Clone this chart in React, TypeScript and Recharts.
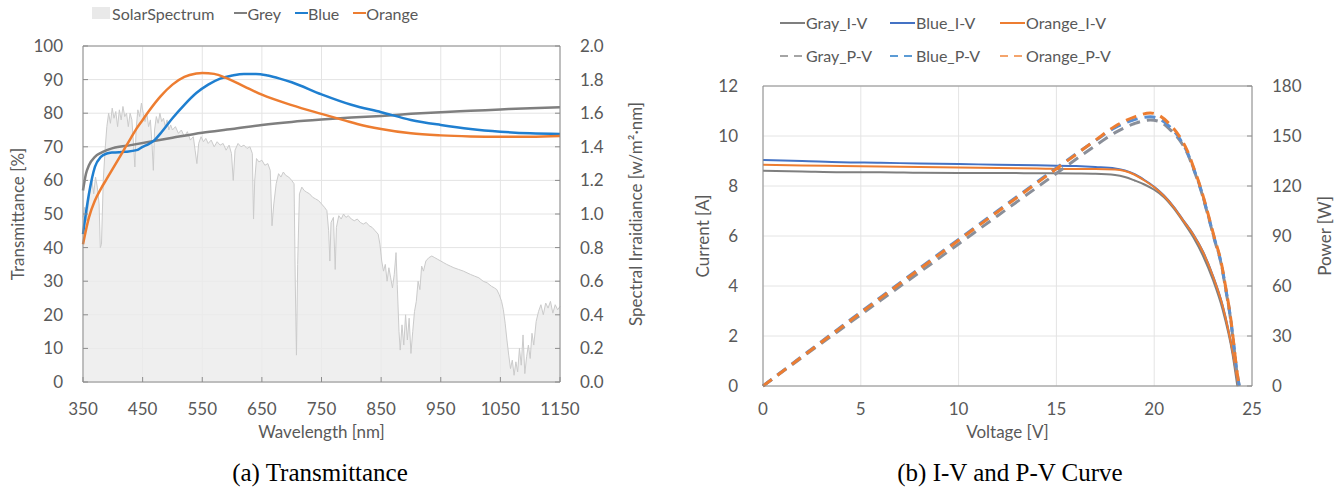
import { ComposedChart, Line, Area, XAxis, YAxis, CartesianGrid, Legend, ReferenceLine } from 'recharts'

const FONT = 'Lato, "Open Sans", sans-serif'
const INK = '#595959'
const GRID = '#e4e4e4'
const FRAME = '#8c8c8c'

// ---- (a) Transmittance ----
const wavelengthTicks = [350, 450, 550, 650, 750, 850, 950, 1050, 1150]
const transmittanceTicks = [0, 10, 20, 30, 40, 50, 60, 70, 80, 90, 100]
const irradianceTicks = [0, 0.2, 0.4, 0.6, 0.8, 1.0, 1.2, 1.4, 1.6, 1.8, 2.0]

const spectrumNm = [
  350, 353, 356, 359, 362, 365, 368, 371, 374, 377, 379, 381, 384, 387, 390, 393, 396, 399, 402, 405,
  408, 411, 414, 417, 420, 423, 426, 429, 432, 435, 437, 439, 442, 445, 448, 451, 454, 457, 460, 463,
  466, 468, 470, 473, 476, 479, 482, 485, 488, 491, 494, 497, 500, 505, 510, 515, 520, 525, 530, 535,
  538, 541, 544, 548, 552, 556, 560, 565, 570, 575, 580, 585, 590, 595, 599, 602, 605, 610, 615, 620,
  625, 630, 634, 636, 638, 641, 645, 650, 655, 660, 664, 667, 670, 674, 678, 682, 686, 690, 695, 700,
  704, 706, 708, 710, 713, 717, 721, 725, 730, 735, 740, 745, 750, 755, 759, 762, 764, 766, 770, 773,
  775, 779, 783, 787, 791, 795, 800, 805, 810, 815, 820, 825, 830, 835, 840, 845, 848, 851, 854, 857,
  860, 863, 866, 869, 872, 875, 877, 880, 882, 885, 888, 891, 894, 897, 900, 903, 906, 909, 912, 915,
  918, 921, 925, 930, 935, 940, 945, 950, 955, 960, 966, 972, 980, 988, 994, 1000, 1007, 1014, 1021, 1028,
  1035, 1040, 1044, 1048, 1052, 1055, 1058, 1061, 1064, 1067, 1070, 1073, 1076, 1079, 1082, 1085, 1088, 1091, 1094, 1097,
  1100, 1103, 1106, 1110, 1114, 1118, 1122, 1126, 1130, 1134, 1138, 1142, 1146, 1150,
]
const spectrumIrr = [
  0.98, 1.04, 0.96, 1.06, 1.14, 1.2, 1.12, 1.22, 1.16, 1.06, 0.8, 0.82, 1.2, 1.38, 1.52, 1.6, 1.54, 1.63, 1.57, 1.61,
  1.52, 1.62, 1.56, 1.64, 1.58, 1.6, 1.52, 1.6, 1.56, 1.4, 1.28, 1.5, 1.62, 1.58, 1.66, 1.6, 1.55, 1.6, 1.52, 1.56,
  1.4, 1.26, 1.5, 1.58, 1.54, 1.6, 1.55, 1.57, 1.52, 1.56, 1.5, 1.53, 1.5, 1.52, 1.48, 1.5, 1.46, 1.49, 1.44, 1.46,
  1.38, 1.3, 1.42, 1.46, 1.43, 1.45, 1.42, 1.44, 1.4, 1.43, 1.41, 1.42, 1.38, 1.41, 1.36, 1.2, 1.38, 1.42, 1.4, 1.41,
  1.39, 1.4, 1.36, 0.97, 1.2, 1.33, 1.31, 1.32, 1.29, 1.3, 1.26, 0.93, 1.06, 1.18, 1.24, 1.22, 1.25, 1.23, 1.22, 1.2,
  1.18, 0.6, 0.16, 0.7, 1.12, 1.16, 1.14, 1.13, 1.12, 1.1, 1.09, 1.08, 1.06, 1.04, 1.02, 0.9, 0.72, 0.95, 0.98, 0.67,
  0.92, 0.99, 0.97, 1.0, 0.98, 0.99, 0.97, 0.96, 0.97, 0.95, 0.94, 0.95, 0.93, 0.92, 0.9, 0.88, 0.82, 0.72, 0.66, 0.7,
  0.6, 0.68, 0.62, 0.56, 0.64, 0.77, 0.58, 0.3, 0.19, 0.34, 0.22, 0.4, 0.25, 0.38, 0.17, 0.3, 0.42, 0.48, 0.6, 0.55,
  0.69, 0.66, 0.72, 0.74, 0.75, 0.74, 0.73, 0.72, 0.71, 0.7, 0.69, 0.68, 0.67, 0.66, 0.65, 0.64, 0.63, 0.62, 0.6, 0.59,
  0.57, 0.56, 0.55, 0.52, 0.48, 0.43, 0.35, 0.25, 0.16, 0.08, 0.13, 0.04, 0.12, 0.06, 0.2, 0.1, 0.28, 0.05, 0.15, 0.22,
  0.14, 0.29, 0.22, 0.36, 0.42, 0.46, 0.4, 0.47, 0.44, 0.48, 0.41, 0.46, 0.43, 0.45,
]

const greyNm = [350, 355, 360, 370, 380, 390, 400, 430, 500, 550, 600, 650, 700, 750, 800, 850, 900, 950, 1000, 1050, 1100, 1150]
const greyT = [57, 62, 64.5, 67, 68.2, 69, 69.6, 70.5, 72.7, 74.2, 75.3, 76.5, 77.4, 78.1, 78.7, 79.2, 79.8, 80.3, 80.7, 81.1, 81.5, 81.8]

const blueNm = [350, 360, 370, 380, 390, 400, 420, 440, 450, 460, 470, 480, 500, 520, 540, 560, 580, 600, 620, 640, 660, 680, 700, 750, 800, 850, 900, 950, 1000, 1050, 1100, 1150]
const blueT = [44, 56, 64, 67, 68, 68.3, 68.5, 69, 70, 70.8, 72, 74, 78.5, 82.5, 86, 88.5, 90.3, 91.2, 91.7, 91.7, 91.2, 90.3, 89.2, 85.6, 82.5, 80.3, 78, 76.5, 75.3, 74.5, 74, 73.8]

const orangeNm = [350, 360, 370, 380, 390, 400, 410, 420, 430, 440, 450, 460, 480, 500, 520, 540, 550, 570, 590, 620, 650, 700, 750, 790, 810, 850, 900, 950, 1000, 1050, 1100, 1150]
const orangeT = [41, 49, 54, 57.5, 60.5, 63.5, 66.5, 69.5, 72.5, 75.5, 78, 80.5, 85, 88.5, 90.8, 91.8, 92, 91.7, 90.5, 88, 85.5, 82.4, 79.8, 77.8, 76.8, 75.3, 74, 73.4, 73.1, 73, 73, 73.2]

// ---- (b) I-V and P-V ----
const voltageTicks = [0, 5, 10, 15, 20, 25]
const currentTicks = [0, 2, 4, 6, 8, 10, 12]
const powerTicks = [0, 30, 60, 90, 120, 150, 180]

const ivVolt = [0, 2, 4, 6, 8, 10, 12, 14, 16, 17, 18, 18.5, 19, 19.5, 20, 20.5, 21, 21.5, 22, 22.5, 23, 23.5, 24]
const grayIV = [8.61, 8.58, 8.55, 8.55, 8.53, 8.52, 8.52, 8.51, 8.5, 8.49, 8.44, 8.36, 8.22, 8.06, 7.85, 7.55, 7.1, 6.55, 5.95, 5.2, 4.25, 3.05, 1.3]
const blueIV = [9.04, 9.0, 8.95, 8.93, 8.9, 8.88, 8.85, 8.83, 8.8, 8.76, 8.7, 8.62, 8.47, 8.24, 7.97, 7.62, 7.17, 6.62, 6.07, 5.37, 4.42, 3.22, 1.42]
const orangeIV = [8.85, 8.82, 8.8, 8.78, 8.76, 8.74, 8.72, 8.7, 8.68, 8.68, 8.66, 8.6, 8.45, 8.22, 7.95, 7.6, 7.15, 6.6, 6.05, 5.35, 4.4, 3.2, 1.4]
const ivEndVolt = [24.25, 24.3, 24.3]

const pvVolt = [0, 2, 4, 6, 8, 10, 12, 14, 16, 17, 18, 19, 19.8, 20.3, 20.8, 21.3, 21.7, 22, 22.4, 22.7, 23.1, 23.4, 23.7, 23.9, 24.1, 24.2, 24.35]
const grayPV = [0, 17.2, 34.2, 51.3, 68.2, 85.2, 102.2, 119.1, 136, 144.3, 152, 157.5, 159.6, 158.5, 154, 147.5, 139.5, 130.5, 117, 104.5, 87, 74.5, 55, 40.5, 21, 10.5, 0]
const bluePV = [0, 17.9, 35.6, 53.2, 70.6, 88, 105.2, 122.3, 139.2, 147.3, 155, 159.8, 161.5, 160, 155.5, 148.5, 140, 131, 117.5, 105, 87.5, 75, 55.5, 41, 21.5, 11, 0]
const orangePV = [0, 17.6, 35.2, 52.7, 70.1, 87.4, 104.6, 121.8, 138.9, 147.5, 155.9, 161.5, 163.8, 162, 157, 149.6, 141, 131.6, 118, 105.6, 88, 75.6, 56, 41.6, 22, 11.6, 0]

const zip = (xs: number[], ys: number[]) => xs.map((x, i) => ({ x, y: ys[i] }))
const ivSeries = (ys: number[], end: number) => [...zip(ivVolt, ys), { x: end, y: 0 }]

const tickStyle = { fill: INK, fontSize: 17, fontFamily: FONT }
const titleStyle = { fill: INK, fontSize: 17, fontFamily: FONT, textAnchor: 'middle' as const }

function TransLegend() {
  const item = { display: 'flex', alignItems: 'center', marginRight: 14 }
  const swatchLine = (c: string) => <span style={{ width: 13, height: 2, background: c, display: 'inline-block' }} />
  return (
    <div style={{ height: 30, display: 'flex', alignItems: 'center', paddingLeft: 92, paddingBottom: 4, boxSizing: 'border-box', fontFamily: FONT, fontSize: 16, color: INK }}>
      <div style={{ ...item, marginRight: 20 }}>
        <span style={{ width: 18, height: 12, background: '#e9e9e9', display: 'inline-block', marginRight: 2 }} />SolarSpectrum
      </div>
      <div style={item}>{swatchLine('#7f7f7f')}Grey</div>
      <div style={item}>{swatchLine('#1f7fd0')}Blue</div>
      <div style={item}>{swatchLine('#ed7d31')}Orange</div>
    </div>
  )
}

const ivLegend = [
  { name: 'Gray_I-V', color: '#7f7f7f', dash: false },
  { name: 'Blue_I-V', color: '#4472c4', dash: false },
  { name: 'Orange_I-V', color: '#ed7d31', dash: false },
  { name: 'Gray_P-V', color: '#a5a5a5', dash: true },
  { name: 'Blue_P-V', color: '#5b9bd5', dash: true },
  { name: 'Orange_P-V', color: '#f4a46c', dash: true },
]

function IVLegend() {
  return (
    <div style={{ height: 66, paddingLeft: 100, paddingTop: 6, boxSizing: 'border-box', display: 'grid', gridTemplateColumns: '110px 110px 130px', gridAutoRows: 33, fontFamily: FONT, fontSize: 16, color: INK }}>
      {ivLegend.map((d) => (
        <div key={d.name} style={{ display: 'flex', alignItems: 'center' }}>
          <svg width={25} height={4} style={{ marginRight: 1 }}>
            <line x1={0} y1={2} x2={25} y2={2} stroke={d.color} strokeWidth={2} strokeDasharray={d.dash ? '8 6' : undefined} />
          </svg>
          {d.name}
        </div>
      ))}
    </div>
  )
}

function TransmittanceChart() {
  return (
    <ComposedChart width={670} height={452} margin={{ top: 16, right: 0, bottom: 12, left: 0 }}>
      <CartesianGrid stroke={GRID} yAxisId="left" />
      <XAxis dataKey="x" type="number" domain={[350, 1150]} ticks={wavelengthTicks} height={58}
        stroke={FRAME} tick={tickStyle} tickSize={-5} tickMargin={26}
        label={{ value: 'Wavelength [nm]', position: 'insideBottom', offset: 2, style: titleStyle }} />
      <YAxis yAxisId="left" domain={[0, 100]} ticks={transmittanceTicks} width={83}
        stroke={FRAME} tick={tickStyle} tickSize={-5} tickMargin={25}
        label={{ value: 'Transmittance [%]', angle: -90, position: 'insideLeft', offset: 18, style: titleStyle }} />
      <YAxis yAxisId="right" orientation="right" domain={[0, 2]} ticks={irradianceTicks} width={110}
        stroke={FRAME} tick={tickStyle} tickSize={-5} tickMargin={25} tickFormatter={(v: number) => v.toFixed(1)}
        label={{ value: 'Spectral Irraidiance [w/m²·nm]', angle: -90, position: 'insideRight', offset: 34, style: titleStyle }} />
      <ReferenceLine yAxisId="left" y={100} stroke={FRAME} />
      <Legend verticalAlign="top" content={<TransLegend />} wrapperStyle={{ top: 0, left: 0, width: 670, height: 30 }} />
      <Area yAxisId="right" data={zip(spectrumNm, spectrumIrr)} dataKey="y" type="linear" fill="#ebebeb" fillOpacity={0.8}
        stroke="#cbcbcb" strokeWidth={1} isAnimationActive={false} />
      <Line yAxisId="left" data={zip(greyNm, greyT)} dataKey="y" type="monotone" stroke="#7f7f7f" strokeWidth={2.5} dot={false} isAnimationActive={false} />
      <Line yAxisId="left" data={zip(blueNm, blueT)} dataKey="y" type="monotone" stroke="#1f7fd0" strokeWidth={2.5} dot={false} isAnimationActive={false} />
      <Line yAxisId="left" data={zip(orangeNm, orangeT)} dataKey="y" type="monotone" stroke="#ed7d31" strokeWidth={2.5} dot={false} isAnimationActive={false} />
    </ComposedChart>
  )
}

function IVChart() {
  return (
    <ComposedChart width={663} height={452} margin={{ top: 20, right: 0, bottom: 12, left: 0 }}>
      <CartesianGrid stroke={GRID} yAxisId="left" />
      <XAxis dataKey="x" type="number" domain={[0, 25]} ticks={voltageTicks} height={54}
        stroke={FRAME} tick={tickStyle} tickSize={0} tickMargin={17}
        label={{ value: 'Voltage [V]', position: 'insideBottom', offset: 2, style: titleStyle }} />
      <YAxis yAxisId="left" domain={[0, 12]} ticks={currentTicks} width={83}
        stroke={FRAME} tick={tickStyle} tickSize={0} tickMargin={25}
        label={{ value: 'Current [A]', angle: -90, position: 'insideLeft', offset: 23, style: titleStyle }} />
      <YAxis yAxisId="right" orientation="right" domain={[0, 180]} ticks={powerTicks} width={91}
        stroke={FRAME} tick={tickStyle} tickSize={-5} tickMargin={25}
        label={{ value: 'Power [W]', angle: -90, position: 'insideRight', offset: 18, style: titleStyle }} />
      <ReferenceLine yAxisId="left" y={12} stroke={FRAME} />
      <Legend verticalAlign="top" content={<IVLegend />} wrapperStyle={{ top: 0, left: 0, width: 663, height: 66 }} />
      <Line yAxisId="left" data={ivSeries(grayIV, ivEndVolt[0])} dataKey="y" type="monotone" stroke="#7f7f7f" strokeWidth={2} dot={false} isAnimationActive={false} />
      <Line yAxisId="left" data={ivSeries(blueIV, ivEndVolt[1])} dataKey="y" type="monotone" stroke="#4472c4" strokeWidth={2} dot={false} isAnimationActive={false} />
      <Line yAxisId="left" data={ivSeries(orangeIV, ivEndVolt[2])} dataKey="y" type="monotone" stroke="#ed7d31" strokeWidth={2} dot={false} isAnimationActive={false} />
      <Line yAxisId="right" data={zip(pvVolt, grayPV)} dataKey="y" type="monotone" stroke="#8a8f99" strokeWidth={3} strokeDasharray="11 7" dot={false} isAnimationActive={false} />
      <Line yAxisId="right" data={zip(pvVolt, bluePV)} dataKey="y" type="monotone" stroke="#5b8fd0" strokeWidth={3} strokeDasharray="11 7" dot={false} isAnimationActive={false} />
      <Line yAxisId="right" data={zip(pvVolt, orangePV)} dataKey="y" type="monotone" stroke="#ed7d31" strokeWidth={3} strokeDasharray="11 7" dot={false} isAnimationActive={false} />
    </ComposedChart>
  )
}

const caption = { position: 'absolute' as const, top: 459, fontFamily: '"Liberation Serif", "Times New Roman", serif', fontSize: 25, color: '#000', textAlign: 'center' as const }

export default function App() {
  return (
    <div style={{ position: 'absolute', left: 0, top: 0, width: 1343, height: 497, background: '#fff' }}>
      <div style={{ position: 'absolute', left: 0, top: 0 }}>
        <TransmittanceChart />
      </div>
      <div style={{ position: 'absolute', left: 680, top: 0 }}>
        <IVChart />
      </div>
      <div style={{ ...caption, left: 120, width: 400 }}>(a) Transmittance</div>
      <div style={{ ...caption, left: 810, width: 400 }}>(b) I-V and P-V Curve</div>
    </div>
  )
}
